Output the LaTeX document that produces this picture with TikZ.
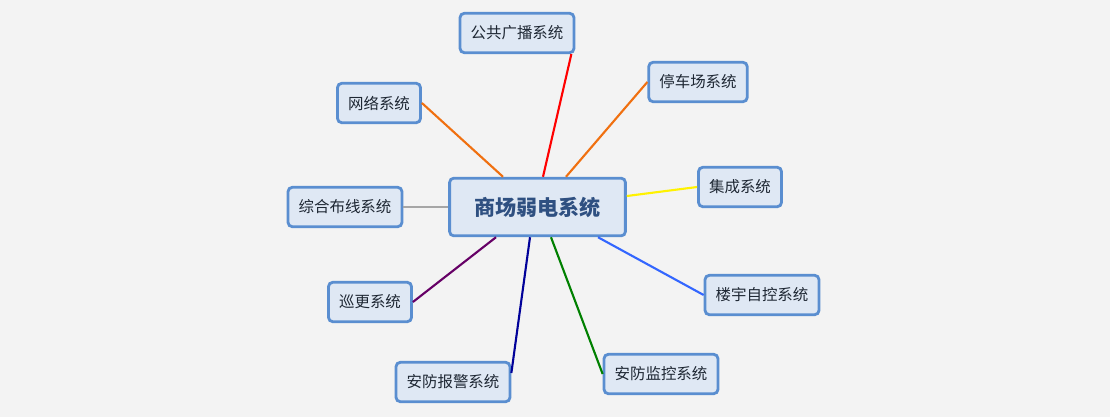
\documentclass[tikz,border=0pt]{standalone}
\usepackage{fontspec}
\setmainfont{Noto Sans CJK SC}
\usepackage{tikz}
\usetikzlibrary{positioning,calc}
\usepackage{xcolor}
\definecolor{bgGray}{HTML}{F3F3F3}
\definecolor{boxFill}{HTML}{DFE8F4}
\definecolor{boxLine}{HTML}{5A8ED0}
\definecolor{hubText}{HTML}{2F5081}
\definecolor{sysText}{HTML}{1E2733}
\definecolor{lnOrange}{HTML}{F07010}
\definecolor{lnBlue}{HTML}{3366FF}
\definecolor{lnNavy}{HTML}{000099}
\definecolor{lnPurple}{HTML}{660066}
\definecolor{lnGreen}{HTML}{008000}
\definecolor{lnGray}{HTML}{A6A6A6}

\begin{document}
\begin{tikzpicture}[x=0.025cm, y=-0.025cm,
    sysbox/.style={draw=boxLine, fill=boxFill, line width=2pt, rounded corners=3pt,
        minimum height=28pt, inner xsep=7.5pt, text=sysText, font=\fontsize{11pt}{13pt}\selectfont},
    hubbox/.style={sysbox, minimum width=125pt, minimum height=41pt, text=hubText,
        font=\fontsize{15pt}{18pt}\selectfont\bfseries},
    link/.style={line width=1.5pt}]
            % Background
            \fill[bgGray] (0,0) rectangle (1110,417);
            \useasboundingbox (0,0) rectangle (1110,417);

            % Hub
            \node[hubbox] (hub) at (537.5,207) {商场弱电系统};

            % Systems
            \node[sysbox] (bcast) at (517,33) {公共广播系统};
            \node[sysbox] (park) at (698,82) {停车场系统};
            \node[sysbox] (net) at (379,103) {网络系统};
            \node[sysbox] (cabl) at (345,207) {综合布线系统};
            \node[sysbox] (integ) at (740,187) {集成系统};
            \node[sysbox] (bas) at (762,295) {楼宇自控系统};
            \node[sysbox] (cctv) at (661,374) {安防监控系统};
            \node[sysbox] (alarm) at (453,382) {安防报警系统};
            \node[sysbox] (patrol) at (370,302) {巡更系统};

            % Links
            \draw[link, red] ($(hub.north)+(5.5,0)$) -- ($(bcast.south east)+(-4,0)$);
            \draw[link, lnOrange] ($(hub.north)+(28.5,0)$) -- (park.west);
            \draw[link, lnOrange] ($(hub.north)+(-34.5,0)$) -- (net.east);
            \draw[link, lnGray] (hub.west) -- (cabl.east);
            \draw[link, yellow] ($(hub.east)+(0,-11)$) -- (integ.west);
            \draw[link, lnBlue] ($(hub.south)+(60.5,0)$) -- (bas.west);
            \draw[link, lnGreen] ($(hub.south)+(13.5,0)$) -- (cctv.west);
            \draw[link, lnNavy] ($(hub.south)+(-7.5,0)$) -- ($(alarm.east)+(0,-9)$);
            \draw[link, lnPurple] ($(hub.south)+(-41.5,0)$) -- (patrol.east);
        \end{tikzpicture}
\end{document}
